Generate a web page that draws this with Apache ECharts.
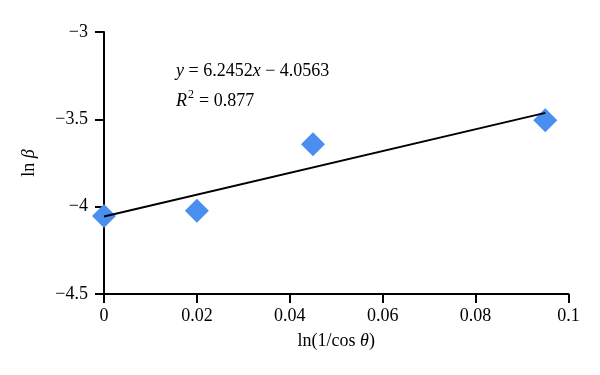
<!DOCTYPE html>
<html>
<head>
<meta charset="utf-8">
<script src="https://cdn.jsdelivr.net/npm/echarts@6/dist/echarts.min.js"></script>
<style>
html,body{margin:0;padding:0;background:#fff;}
#c{width:600px;height:375px;}
</style>
</head>
<body>
<div id="c"></div>
<script>
var xValues = [0, 0.02, 0.045, 0.095];
var yValues = [-4.053, -4.023, -3.643, -3.505];
var slope = 6.2452;
var intercept = -4.0563;
var trendX = [0, 0.095];
var xTicks = ['0', '0.02', '0.04', '0.06', '0.08', '0.1'];
var yTicks = ['−4.5', '−4', '−3.5', '−3'];

var FONT = '"Liberation Serif", "DejaVu Serif", serif';
var FS = 18;
var chart = echarts.init(document.getElementById('c'), null, {renderer: 'canvas'});

var points = xValues.map(function (x, i) { return [x, yValues[i]]; });
var trend = trendX.map(function (x) { return [x, slope * x + intercept]; });

function fmt(v) {
  var s = String(Math.round(v * 1000) / 1000);
  return s.replace('-', '−');
}

chart.setOption({
  backgroundColor: '#fff',
  animation: false,
  grid: {left: 104, right: 31.5, top: 32, bottom: 81},
  xAxis: {
    type: 'value', min: 0, max: 0.1, interval: 0.02,
    name: '{n|ln(1/cos }{i|θ}{n|)}',
    nameLocation: 'middle', nameGap: 38,
    nameTextStyle: {rich: {n: {fontFamily: FONT, fontSize: FS, color: '#000'}, i: {fontFamily: FONT, fontSize: FS, fontStyle: 'italic', color: '#000'}}},
    axisLine: {lineStyle: {color: '#000', width: 2}},
    axisTick: {length: 9, lineStyle: {color: '#000', width: 2}},
    axisLabel: {margin: 13, color: '#000', fontFamily: FONT, fontSize: FS, formatter: function (v) { return fmt(v); }},
    splitLine: {show: false}
  },
  yAxis: {
    type: 'value', min: -4.5, max: -3, interval: 0.5,
    name: '{n|ln }{i|β}',
    nameLocation: 'middle', nameGap: 66, nameRotate: 90,
    nameTextStyle: {rich: {n: {fontFamily: FONT, fontSize: FS, color: '#000'}, i: {fontFamily: FONT, fontSize: FS, fontStyle: 'italic', color: '#000'}}},
    axisLine: {show: true, lineStyle: {color: '#000', width: 2}},
    axisTick: {show: true, length: 9, lineStyle: {color: '#000', width: 2}},
    axisLabel: {margin: 16, color: '#000', fontFamily: FONT, fontSize: FS, formatter: function (v) { return fmt(v); }},
    splitLine: {show: false}
  },
  series: [
    {
      type: 'scatter', data: points, symbol: 'diamond', symbolSize: [24, 24],
      itemStyle: {color: '#4a8ef0', opacity: 1}, z: 2
    },
    {
      type: 'line', data: trend, symbol: 'none', showSymbol: false,
      lineStyle: {color: '#000', width: 1.8}, z: 3
    }
  ],
  graphic: [
    {
      type: 'text', left: 176, top: 62,
      style: {
        text: '{i|y}{n| = 6.2452}{i|x}{n| − 4.0563}',
        rich: {n: {fontFamily: FONT, fontSize: FS, fill: '#000'}, i: {fontFamily: FONT, fontSize: FS, fontStyle: 'italic', fill: '#000'}}
      }
    },
    {
      type: 'text', left: 176, top: 92,
      style: {
        text: 'R',
        fontFamily: FONT, fontSize: FS, fontStyle: 'italic', fill: '#000'
      }
    },
    {
      type: 'text', left: 188, top: 89,
      style: {
        text: '2',
        fontFamily: FONT, fontSize: 12, fill: '#000'
      }
    },
    {
      type: 'text', left: 199, top: 92,
      style: {
        text: '= 0.877',
        fontFamily: FONT, fontSize: FS, fill: '#000'
      }
    }
  ]
});
</script>
</body>
</html>
